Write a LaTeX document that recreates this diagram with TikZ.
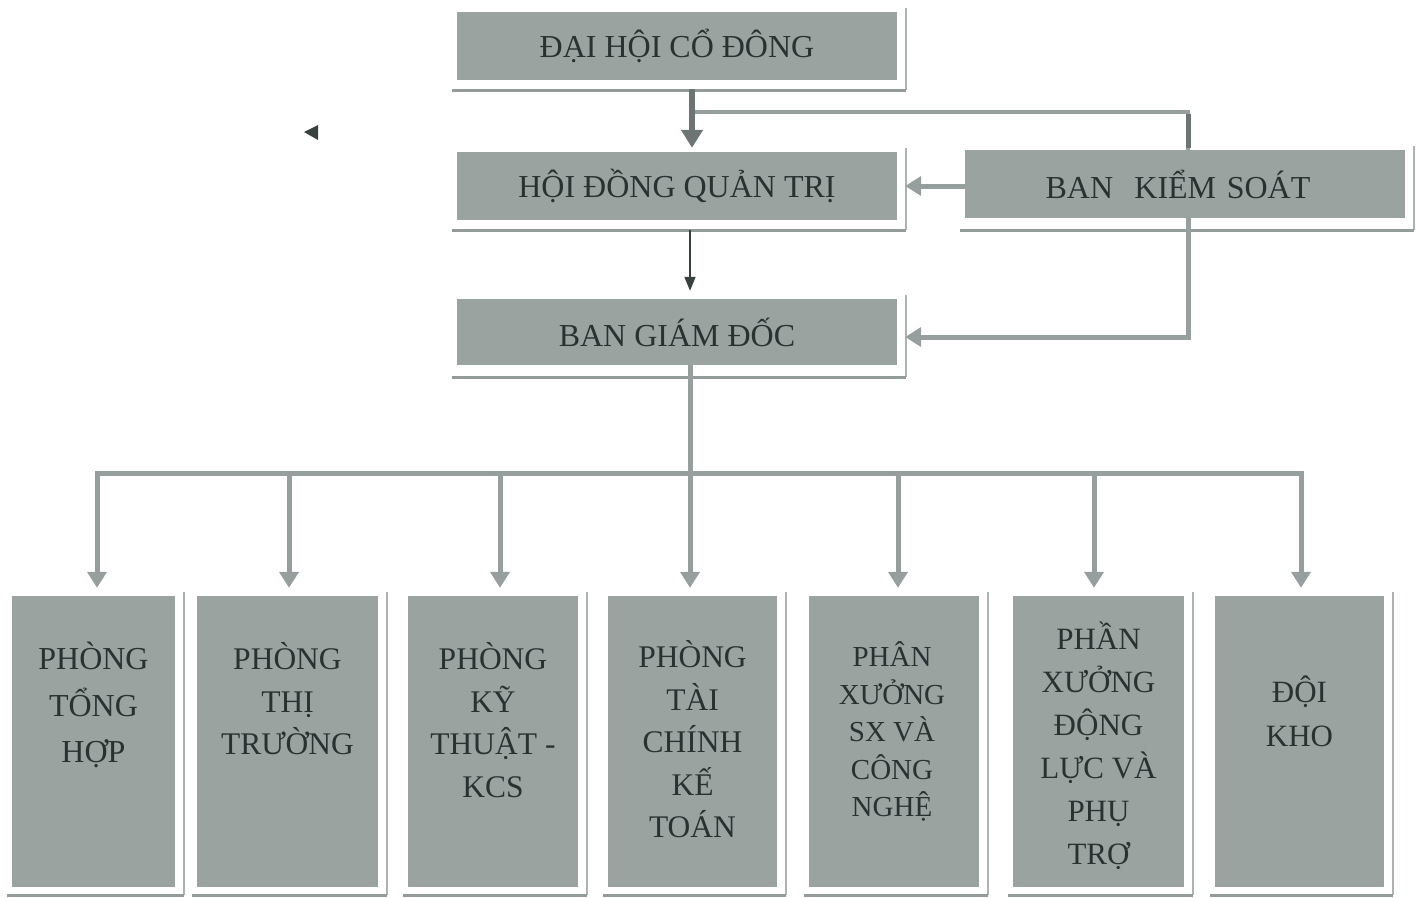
\documentclass[tikz,border=0pt]{standalone}
\usepackage{fontspec}
\setmainfont{Liberation Serif}
\usetikzlibrary{arrows.meta,calc}
\definecolor{boxfill}{RGB}{155,163,161}
\definecolor{txt}{RGB}{40,50,48}
\definecolor{arrg}{RGB}{150,159,157}
\definecolor{arrd}{RGB}{108,117,115}
\definecolor{darkl}{RGB}{55,66,63}
\definecolor{framer}{RGB}{172,179,177}
\definecolor{frameb}{RGB}{148,156,154}
\newcommand{\drawframe}[2]{%
  \draw[rline] ([xshift=9pt,yshift=4pt]#1.north east) -- ([xshift=9pt,yshift=-#2]#1.south east);
  \draw[bline] ([xshift=-5pt,yshift=-#2]#1.south west) -- ([xshift=9pt,yshift=-#2]#1.south east);
}
\begin{document}
\begin{tikzpicture}[x=1pt,y=-1pt,
  topbox/.style={fill=boxfill, minimum width=440pt, minimum height=68pt, inner sep=0pt, text=txt, font=\fontsize{32}{38}\selectfont},
  botbox/.style={fill=boxfill, minimum height=291pt, inner sep=0pt},
  btext/.style={align=center, text=txt, inner sep=0pt, anchor=base},
  rline/.style={draw=framer, line width=2pt},
  bline/.style={draw=frameb, line width=3pt},
  gline/.style={draw=arrg, line width=5pt},
  garr/.style={draw=arrg, line width=5pt, -{Triangle[width=19pt,length=16pt]}},
  darr/.style={draw=arrd, line width=6pt, -{Triangle[width=21pt,length=18pt]}},
  tarr/.style={draw=darkl, line width=1.6pt, -{Triangle[width=11pt,length=14pt]}},
  kline/.style={draw=arrg, line width=4pt},
  kdark/.style={draw=arrd, line width=5pt}
]
\useasboundingbox (0,0) rectangle (1419,897);

% top boxes
\node[topbox] (dh) at (677,46) {ĐẠI HỘI CỔ ĐÔNG};
\node[topbox] (hd) at (677,186) {HỘI ĐỒNG QUẢN TRỊ};
\node[topbox, text width=440pt, align=center] (bk) at (1185,184) {BAN\ \ KIỂM SOÁT\hspace*{14pt}};
\node[topbox, minimum height=66pt] (bg) at (677,332) {BAN GIÁM ĐỐC};
\drawframe{dh}{10pt}
\drawframe{hd}{10pt}
\drawframe{bk}{12pt}
\drawframe{bg}{12pt}

% bottom boxes
\node[botbox, minimum width=163pt] (b1) at (93.5,741.5) {};
\node[botbox, minimum width=181pt] (b2) at (287.5,741.5) {};
\node[botbox, minimum width=170pt] (b3) at (493,741.5) {};
\node[botbox, minimum width=169pt] (b4) at (692.5,741.5) {};
\node[botbox, minimum width=170pt] (b5) at (894,741.5) {};
\node[botbox, minimum width=171pt] (b6) at (1098.5,741.5) {};
\node[botbox, minimum width=169pt] (b7) at (1299.5,741.5) {};
\foreach \b in {b1,b2,b3,b4,b5,b6,b7} {\drawframe{\b}{8pt}}

% bottom texts (anchored at the baseline of the last line)
\node[btext, font=\fontsize{32}{46.5}\selectfont] (t1) at ([yshift=-167pt]b1.north) {PHÒNG\\TỔNG\\HỢP};
\node[btext, font=\fontsize{31.5}{42.5}\selectfont] (t2) at ([yshift=-159pt]b2.north) {PHÒNG\\THỊ\\TRƯỜNG};
\node[btext, font=\fontsize{31.5}{42.5}\selectfont] (t3) at ([yshift=-201.5pt]b3.north) {PHÒNG\\KỸ\\THUẬT -\\KCS};
\node[btext, font=\fontsize{31.5}{42.5}\selectfont] (t4) at ([yshift=-242pt]b4.north) {PHÒNG\\TÀI\\CHÍNH\\KẾ\\TOÁN};
\node[btext, font=\fontsize{29}{37.5}\selectfont] (t5) at ([xshift=-2pt,yshift=-221pt]b5.north) {PHÂN\\XƯỞNG\\SX VÀ\\CÔNG\\NGHỆ};
\node[btext, font=\fontsize{31}{43}\selectfont] (t6) at ([yshift=-269pt]b6.north) {PHẦN\\XƯỞNG\\ĐỘNG\\LỰC VÀ\\PHỤ\\TRỢ};
\node[btext, font=\fontsize{31}{44}\selectfont] (t7) at ([yshift=-151pt]b7.north) {ĐỘI\\KHO};

% connectors top
\coordinate (j1) at (692,112);
\draw[kline] (j1) -| ([xshift=3pt]bk.north);
\draw[kdark] ([xshift=3pt,yshift=36pt]bk.north) -- ([xshift=3pt,yshift=2pt]bk.north);
\draw[darr] ([xshift=15pt,yshift=-9pt]dh.south) -- ([xshift=15pt,yshift=4pt]hd.north);
\draw[garr] (bk.west |- hd.east) -- ([xshift=8pt]hd.east);
\draw[garr] ([xshift=3pt]bk.south) |- ([xshift=8pt,yshift=-5pt]bg.east);
\draw[tarr] ([xshift=13pt,yshift=-10pt]hd.south) -- ([xshift=13pt,yshift=8pt]bg.north);

% distribution
\coordinate (bus) at (690,473);
\draw[gline] ([xshift=13pt]bg.south) -- (bus);
\draw[garr] (bus) -| ([xshift=3.5pt,yshift=8pt]b1.north);
\draw[garr] (bus) -| ([xshift=1.5pt,yshift=8pt]b2.north);
\draw[garr] (bus) -| ([xshift=7pt,yshift=8pt]b3.north);
\draw[garr] (bus) -| ([xshift=-2.5pt,yshift=8pt]b4.north);
\draw[garr] (bus) -| ([xshift=4pt,yshift=8pt]b5.north);
\draw[garr] (bus) -| ([xshift=-4.5pt,yshift=8pt]b6.north);
\draw[garr] (bus) -| ([xshift=1.5pt,yshift=8pt]b7.north);

% stray mark
\fill[darkl] (304,132) -- (318,125) -- (318,140) -- cycle;
\end{tikzpicture}
\end{document}
